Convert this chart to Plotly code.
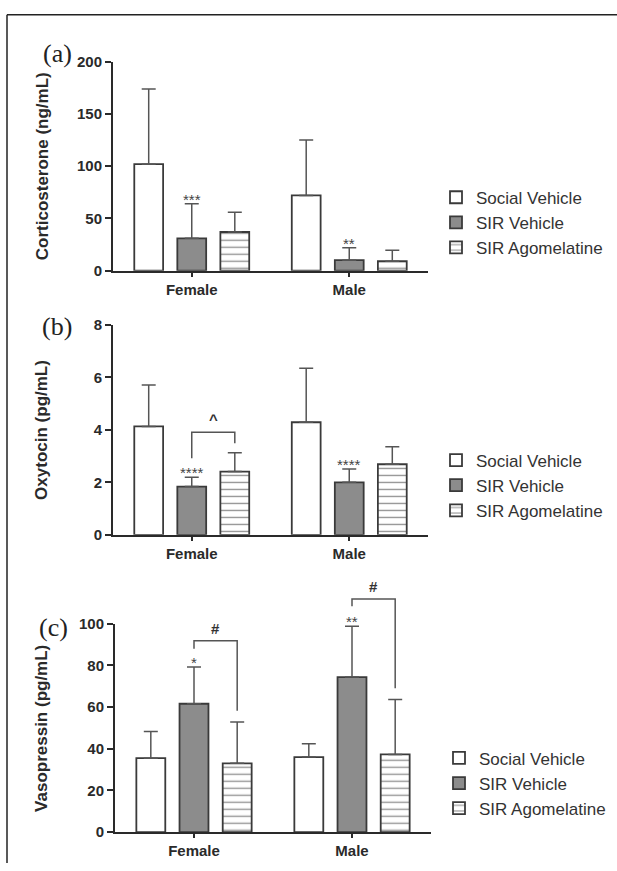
import plotly.graph_objects as go

# ---------------- data ----------------
groups = ["Female", "Male"]
series = ["Social Vehicle", "SIR Vehicle", "SIR Agomelatine"]

# (a) Corticosterone (ng/mL): mean and SEM
cort_social = [102, 72]
cort_social_err = [72, 53]
cort_sir = [31, 10]
cort_sir_err = [33, 12]
cort_ago = [37, 9]
cort_ago_err = [19, 10.5]
cort_stars = ["***", "**"]          # on SIR Vehicle
cort_ticks = [0, 50, 100, 150, 200]

# (b) Oxytocin (pg/mL)
oxy_social = [4.13, 4.29]
oxy_social_err = [1.58, 2.06]
oxy_sir = [1.84, 2.0]
oxy_sir_err = [0.35, 0.51]
oxy_ago = [2.41, 2.69]
oxy_ago_err = [0.72, 0.67]
oxy_stars = ["****", "****"]
oxy_ticks = [0, 2, 4, 6, 8]
# bracket SIR Vehicle vs SIR Agomelatine: group, symbol, top, left foot, right foot
oxy_br_group = [0]
oxy_br_symbol = ["^"]
oxy_br_top = [3.91]
oxy_br_left = [2.92]
oxy_br_right = [3.49]

# (c) Vasopressin (pg/mL)
avp_social = [35.5, 36.0]
avp_social_err = [12.8, 6.4]
avp_sir = [61.6, 74.4]
avp_sir_err = [17.6, 24.4]
avp_ago = [33.0, 37.3]
avp_ago_err = [19.8, 26.3]
avp_stars = ["*", "**"]
avp_ticks = [0, 20, 40, 60, 80, 100]
avp_br_group = [0, 1]
avp_br_symbol = ["#", "#"]
avp_br_top = [91.9, 111.9]
avp_br_left = [88.0, 108.4]
avp_br_right = [58.3, 69.1]

# ---------------- styling ----------------
W, H = 617, 871
FONT = "Liberation Sans, Arial, Helvetica, sans-serif"
SERIF = "Liberation Serif, Times New Roman, serif"
DARK = "#2a2a2a"
BARLINE = "#3a3a3a"
ERRC = "#555555"
GRAYFILL = "#8c8c8c"
BARGAP = 0.18
BARGROUPGAP = 0.33
slot = (1 - BARGAP) / 3.0
offsets = [-slot, 0.0, slot]

# the page photograph was observed to map figure rows as  y_shot = VS*y + VO
VS, VO = 0.981, 7.2


def px_x(p):
    return p / W


def px_y(p):
    return 1 - ((p - VO) / VS) / H


panels = [
    dict(k="", label="(a)", title="Corticosterone (ng/mL)",
         vals=[(cort_social, cort_social_err), (cort_sir, cort_sir_err), (cort_ago, cort_ago_err)],
         stars=cort_stars, ticks=cort_ticks,
         xdom=[px_x(113), px_x(428)], ydom=[px_y(269), px_y(60)],
         legend="legend", leg_xy=(px_x(436), px_y(221)), lab_xy=(px_x(57), px_y(52)),
         br=None),
    dict(k="2", label="(b)", title="Oxytocin (pg/mL)",
         vals=[(oxy_social, oxy_social_err), (oxy_sir, oxy_sir_err), (oxy_ago, oxy_ago_err)],
         stars=oxy_stars, ticks=oxy_ticks,
         xdom=[px_x(113), px_x(428)], ydom=[px_y(533.3), px_y(323.3)],
         legend="legend2", leg_xy=(px_x(436), px_y(484)), lab_xy=(px_x(57), px_y(325)),
         br=(oxy_br_group, oxy_br_symbol, oxy_br_top, oxy_br_left, oxy_br_right)),
    dict(k="3", label="(c)", title="Vasopressin (pg/mL)",
         vals=[(avp_social, avp_social_err), (avp_sir, avp_sir_err), (avp_ago, avp_ago_err)],
         stars=avp_stars, ticks=avp_ticks,
         xdom=[px_x(115), px_x(431)], ydom=[px_y(830.7), px_y(622.3)],
         legend="legend3", leg_xy=(px_x(439), px_y(782)), lab_xy=(px_x(53), px_y(626)),
         br=(avp_br_group, avp_br_symbol, avp_br_top, avp_br_left, avp_br_right)),
]

fig = go.Figure()
annotations = []
shapes = [
    dict(type="line", xref="paper", yref="paper", x0=px_x(7), x1=1, y0=px_y(13), y1=px_y(13),
         line=dict(color="#222", width=1.5)),
    dict(type="line", xref="paper", yref="paper", x0=px_x(7), x1=px_x(7), y0=px_y(13), y1=0,
         line=dict(color="#222", width=1.5)),
]
layout = {}

for p in panels:
    xa, ya = "x" + p["k"], "y" + p["k"]
    ydomref = ya + " domain"
    ytop = p["ticks"][-1]
    for si, (name, (vals, errs)) in enumerate(zip(series, p["vals"])):
        marker = dict(line=dict(color=BARLINE, width=1.8))
        if si == 0:
            marker["color"] = "white"
        elif si == 1:
            marker["color"] = GRAYFILL
        else:
            marker["color"] = "white"
            marker["pattern"] = dict(shape="-", fgcolor="#2a2a2a", bgcolor="white",
                                     size=7, solidity=0.2)
        fig.add_trace(go.Bar(
            x=[0, 1], y=vals, name=name, marker=marker,
            error_y=dict(type="data", symmetric=False, array=errs,
                         arrayminus=[0] * len(errs), color=ERRC,
                         thickness=1.5, width=7),
            xaxis=xa, yaxis=ya, legend=p["legend"],
            legendgroup=p["legend"] + name, showlegend=True,
        ))
    # stars over SIR Vehicle bars
    sir_vals, sir_errs = p["vals"][1]
    for gi, st in enumerate(p["stars"]):
        annotations.append(dict(
            x=gi + offsets[1], y=sir_vals[gi] + sir_errs[gi], xref=xa, yref=ya,
            text=st, showarrow=False, yanchor="bottom", yshift=-6,
            font=dict(family=FONT, size=15, color="#444")))
    # brackets (y in the axis' domain units so they may rise above the axis top)
    if p["br"] is not None:
        bg, bs, bt, bl, brr = p["br"]
        for g, sym, top, lf, rf in zip(bg, bs, bt, bl, brr):
            xl = g + offsets[1]
            xr = g + offsets[2]
            shapes.append(dict(
                type="path", xref=xa, yref=ydomref,
                path=f"M {xl},{lf / ytop} L {xl},{top / ytop} L {xr},{top / ytop} L {xr},{rf / ytop}",
                line=dict(color="#555", width=1.5)))
            annotations.append(dict(
                x=(xl + xr) / 2, y=top / ytop, xref=xa, yref=ydomref,
                text="<b>" + sym + "</b>",
                showarrow=False, yanchor="bottom", yshift=2,
                font=dict(family=FONT, size=15, color="#333")))
    # axis title
    annotations.append(dict(
        x=px_x(42), y=(p["ydom"][0] + p["ydom"][1]) / 2, xref="paper", yref="paper",
        text="<b>" + p["title"] + "</b>", textangle=-90, showarrow=False,
        xanchor="center", yanchor="middle",
        font=dict(family=FONT, size=17, color=DARK)))
    # panel label
    annotations.append(dict(
        x=p["lab_xy"][0], y=p["lab_xy"][1], xref="paper", yref="paper",
        text=p["label"], showarrow=False, xanchor="center", yanchor="middle",
        font=dict(family=SERIF, size=26, color="#222")))

    layout["xaxis" + p["k"]] = dict(
        domain=p["xdom"], anchor=ya, range=[-0.5, 1.5], tickvals=[0, 1], ticktext=groups,
        showline=True, linecolor=DARK, linewidth=2, ticks="outside", ticklen=4,
        tickwidth=2, tickcolor=DARK, showgrid=False, zeroline=False,
        tickfont=dict(family=FONT, size=15, color=DARK, weight="bold"))
    layout["yaxis" + p["k"]] = dict(
        domain=p["ydom"], anchor=xa, range=[0, ytop], tickvals=p["ticks"],
        showline=True, linecolor=DARK, linewidth=2, ticks="outside", ticklen=6,
        tickwidth=2, tickcolor=DARK, showgrid=False, zeroline=False,
        tickfont=dict(family=FONT, size=15, color=DARK, weight="bold"))
    layout[p["legend"]] = dict(
        x=p["leg_xy"][0], y=p["leg_xy"][1], xanchor="left", yanchor="middle",
        font=dict(family=FONT, size=17, color="#333"), bgcolor="rgba(0,0,0,0)",
        tracegroupgap=7, traceorder="normal")

fig.update_layout(
    width=W, height=H, margin=dict(l=0, r=0, t=0, b=0),
    paper_bgcolor="white", plot_bgcolor="white",
    barmode="group", bargap=BARGAP, bargroupgap=BARGROUPGAP,
    font=dict(family=FONT, color=DARK),
    annotations=annotations,
    shapes=shapes,
    **layout,
)

fig.write_html(
    "out.html",
    config={"displayModeBar": False},
    post_script=("document.body.style.margin='0px';"
                 "document.body.style.overflow='hidden';"
                 "document.documentElement.style.overflow='hidden';"),
)
